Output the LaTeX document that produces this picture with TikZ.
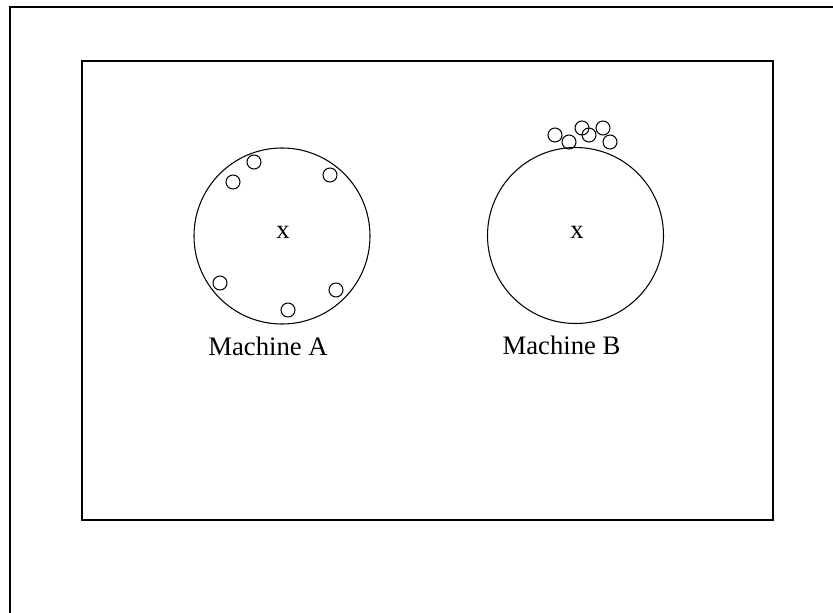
\documentclass[tikz,border=0pt]{standalone}
\usepackage{fontspec}
\setmainfont{Liberation Serif}
\usetikzlibrary{positioning}
\tikzset{
  frame/.style   = {draw, line width=1.6pt},
  machine/.style = {draw, circle, line width=0.8pt, minimum size={176*0.75pt},
                    inner sep=0pt},
  piece/.style   = {draw, line width=0.8pt},
  lbl/.style     = {font=\fontsize{20}{23}\selectfont, inner sep=0pt},
}

\begin{document}
\begin{tikzpicture}[x=0.75pt, y=-0.75pt]
  \useasboundingbox (0,0) rectangle (833,613);
  % outer sheet, open on the right and at the bottom
  \draw[frame] (10,613) -- (10,7) -- (833,7);
  \node[frame, minimum width={691*0.75pt}, minimum height={459*0.75pt},
        inner sep=0pt] (board) at (427.5,290.5) {};

  \node[machine] (mA) at (282,236) {};
  \node[machine] (mB) at (575.5,235.5) {};
  \node[lbl] (cA) at (283,232) {x};
  \node[lbl] (cB) at (577,232) {x};
  \node[lbl, below=9pt of mA, xshift=-10.5pt] (lA) {Machine A};
  \node[lbl, below=9pt of mB, xshift=-10.5pt] (lB) {Machine B};

  % pieces spread round the rim of A
  \foreach \p in {(254,162),(233,182),(330,175),(220,283),(336,290),(288,310)}
    \draw[piece] \p circle (7);
  % pieces piled on top of B
  \foreach \p in {(555,135),(569,142),(582,128),(589,135),(603,128),(610,142)}
    \draw[piece] \p circle (7);
\end{tikzpicture}
\end{document}
